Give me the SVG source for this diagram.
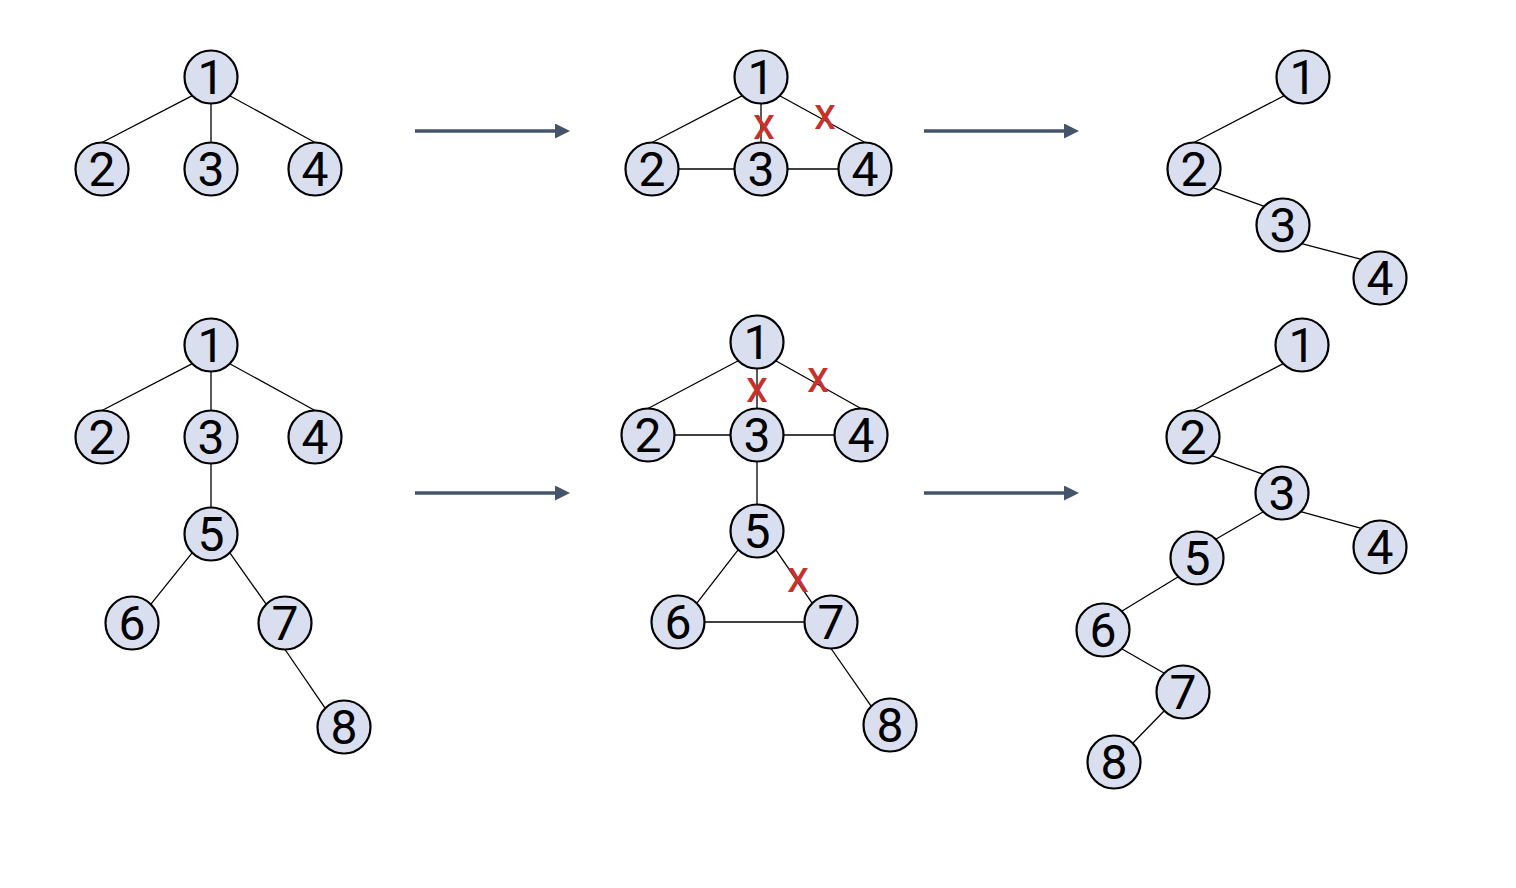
<svg xmlns="http://www.w3.org/2000/svg" width="1516" height="888" viewBox="0 0 1516 888">
<defs>
<style>
.e{stroke:#000;stroke-width:1.3;fill:none}
.n circle{fill:#dadff0;stroke:#000;stroke-width:2.2}
.n text{font-family:Roboto,"Noto Sans",sans-serif;font-size:48px;text-anchor:middle;fill:#000}
.x{font-family:Roboto,"Noto Sans",sans-serif;font-size:34px;font-weight:500;text-anchor:middle;fill:#c8302a}
.a{stroke:#44546a;stroke-width:3.5;fill:none}
</style>
<marker id="ah" markerWidth="16" markerHeight="16" refX="0" refY="7.5" orient="auto" markerUnits="userSpaceOnUse">
<path d="M0,0 L15,7.5 L0,15 Z" fill="#44546a"/>
</marker>
</defs>
<rect width="1516" height="888" fill="#fff"/>
<g id="connectors">
<!-- top-left -->
<line class="e" x1="192.3" y1="95.7" x2="102" y2="142.5"/>
<line class="e" x1="211" y1="103.5" x2="211" y2="142.5"/>
<line class="e" x1="229.7" y1="95.7" x2="315" y2="142.5"/>
<!-- top-mid -->
<line class="e" x1="742.3" y1="95.7" x2="652" y2="142.5"/>
<line class="e" x1="761" y1="103.5" x2="761" y2="142.5"/>
<line class="e" x1="779.7" y1="95.7" x2="865" y2="142.5"/>
<line class="e" x1="678.5" y1="169" x2="734.5" y2="169"/>
<line class="e" x1="787.5" y1="169" x2="838.5" y2="169"/>
<!-- top-right -->
<line class="e" x1="1284.3" y1="95.7" x2="1194" y2="142.5"/>
<line class="e" x1="1212.7" y1="187.7" x2="1264.3" y2="206.3"/>
<line class="e" x1="1301.7" y1="243.7" x2="1361.3" y2="259.3"/>
<!-- bottom-left -->
<line class="e" x1="192.3" y1="363.7" x2="102" y2="410.5"/>
<line class="e" x1="211" y1="371.5" x2="211" y2="410.5"/>
<line class="e" x1="229.7" y1="363.7" x2="315" y2="410.5"/>
<line class="e" x1="211" y1="463.5" x2="211" y2="507.5"/>
<line class="e" x1="192.3" y1="552.7" x2="150.7" y2="604.3"/>
<line class="e" x1="229.7" y1="552.7" x2="266.3" y2="604.3"/>
<line class="e" x1="285" y1="649.5" x2="325.3" y2="708.3"/>
<!-- bottom-mid -->
<line class="e" x1="738.3" y1="360.7" x2="648" y2="408.5"/>
<line class="e" x1="757" y1="368.5" x2="757" y2="408.5"/>
<line class="e" x1="775.7" y1="360.7" x2="861" y2="408.5"/>
<line class="e" x1="674.5" y1="435" x2="730.5" y2="435"/>
<line class="e" x1="783.5" y1="435" x2="834.5" y2="435"/>
<line class="e" x1="757" y1="461.5" x2="757" y2="504.5"/>
<line class="e" x1="738.3" y1="549.7" x2="696.7" y2="603.3"/>
<line class="e" x1="775.7" y1="549.7" x2="812.3" y2="603.3"/>
<line class="e" x1="704.5" y1="622" x2="804.5" y2="622"/>
<line class="e" x1="831" y1="648.5" x2="871.3" y2="706.3"/>
<!-- bottom-right -->
<line class="e" x1="1283.3" y1="363.7" x2="1193" y2="410.5"/>
<line class="e" x1="1211.7" y1="455.7" x2="1263.3" y2="474.3"/>
<line class="e" x1="1300.7" y1="511.7" x2="1361.3" y2="528.3"/>
<line class="e" x1="1263.3" y1="511.7" x2="1215.7" y2="539.3"/>
<line class="e" x1="1178.3" y1="576.7" x2="1121.7" y2="611.3"/>
<line class="e" x1="1121.7" y1="648.7" x2="1164.3" y2="673.3"/>
<line class="e" x1="1164.3" y1="710.7" x2="1132.7" y2="743.3"/>
<!-- arrows -->
<line class="a" x1="415" y1="131" x2="555" y2="131" marker-end="url(#ah)"/>
<line class="a" x1="924" y1="131" x2="1064" y2="131" marker-end="url(#ah)"/>
<line class="a" x1="415" y1="493" x2="555" y2="493" marker-end="url(#ah)"/>
<line class="a" x1="924" y1="493" x2="1064" y2="493" marker-end="url(#ah)"/>
</g>
<g id="cross-marks">
<text class="x" x="764" y="139">X</text>
<text class="x" x="825" y="129">X</text>
<text class="x" x="757" y="402">X</text>
<text class="x" x="818" y="392">X</text>
<text class="x" x="798" y="592">X</text>
</g>
<!-- top-left nodes -->
<g id="tl1" class="n"><circle cx="211" cy="77" r="26.5"/><text x="211" y="94">1</text></g>
<g id="tl2" class="n"><circle cx="102" cy="169" r="26.5"/><text x="102" y="186">2</text></g>
<g id="tl3" class="n"><circle cx="211" cy="169" r="26.5"/><text x="211" y="186">3</text></g>
<g id="tl4" class="n"><circle cx="315" cy="169" r="26.5"/><text x="315" y="186">4</text></g>
<!-- top-mid nodes -->
<g id="tm1" class="n"><circle cx="761" cy="77" r="26.5"/><text x="761" y="94">1</text></g>
<g id="tm2" class="n"><circle cx="652" cy="169" r="26.5"/><text x="652" y="186">2</text></g>
<g id="tm3" class="n"><circle cx="761" cy="169" r="26.5"/><text x="761" y="186">3</text></g>
<g id="tm4" class="n"><circle cx="865" cy="169" r="26.5"/><text x="865" y="186">4</text></g>
<!-- top-right nodes -->
<g id="tr1" class="n"><circle cx="1303" cy="77" r="26.5"/><text x="1303" y="94">1</text></g>
<g id="tr2" class="n"><circle cx="1194" cy="169" r="26.5"/><text x="1194" y="186">2</text></g>
<g id="tr3" class="n"><circle cx="1283" cy="225" r="26.5"/><text x="1283" y="242">3</text></g>
<g id="tr4" class="n"><circle cx="1380" cy="278" r="26.5"/><text x="1380" y="295">4</text></g>
<!-- bottom-left nodes -->
<g id="bl1" class="n"><circle cx="211" cy="345" r="26.5"/><text x="211" y="362">1</text></g>
<g id="bl2" class="n"><circle cx="102" cy="437" r="26.5"/><text x="102" y="454">2</text></g>
<g id="bl3" class="n"><circle cx="211" cy="437" r="26.5"/><text x="211" y="454">3</text></g>
<g id="bl4" class="n"><circle cx="315" cy="437" r="26.5"/><text x="315" y="454">4</text></g>
<g id="bl5" class="n"><circle cx="211" cy="534" r="26.5"/><text x="211" y="551">5</text></g>
<g id="bl6" class="n"><circle cx="132" cy="623" r="26.5"/><text x="132" y="640">6</text></g>
<g id="bl7" class="n"><circle cx="285" cy="623" r="26.5"/><text x="285" y="640">7</text></g>
<g id="bl8" class="n"><circle cx="344" cy="727" r="26.5"/><text x="344" y="744">8</text></g>
<!-- bottom-mid nodes -->
<g id="bm1" class="n"><circle cx="757" cy="342" r="26.5"/><text x="757" y="359">1</text></g>
<g id="bm2" class="n"><circle cx="648" cy="435" r="26.5"/><text x="648" y="452">2</text></g>
<g id="bm3" class="n"><circle cx="757" cy="435" r="26.5"/><text x="757" y="452">3</text></g>
<g id="bm4" class="n"><circle cx="861" cy="435" r="26.5"/><text x="861" y="452">4</text></g>
<g id="bm5" class="n"><circle cx="757" cy="531" r="26.5"/><text x="757" y="548">5</text></g>
<g id="bm6" class="n"><circle cx="678" cy="622" r="26.5"/><text x="678" y="639">6</text></g>
<g id="bm7" class="n"><circle cx="831" cy="622" r="26.5"/><text x="831" y="639">7</text></g>
<g id="bm8" class="n"><circle cx="890" cy="725" r="26.5"/><text x="890" y="742">8</text></g>
<!-- bottom-right nodes -->
<g id="br1" class="n"><circle cx="1302" cy="345" r="26.5"/><text x="1302" y="362">1</text></g>
<g id="br2" class="n"><circle cx="1193" cy="437" r="26.5"/><text x="1193" y="454">2</text></g>
<g id="br3" class="n"><circle cx="1282" cy="493" r="26.5"/><text x="1282" y="510">3</text></g>
<g id="br4" class="n"><circle cx="1380" cy="547" r="26.5"/><text x="1380" y="564">4</text></g>
<g id="br5" class="n"><circle cx="1197" cy="558" r="26.5"/><text x="1197" y="575">5</text></g>
<g id="br6" class="n"><circle cx="1103" cy="630" r="26.5"/><text x="1103" y="647">6</text></g>
<g id="br7" class="n"><circle cx="1183" cy="692" r="26.5"/><text x="1183" y="709">7</text></g>
<g id="br8" class="n"><circle cx="1114" cy="762" r="26.5"/><text x="1114" y="779">8</text></g>
</svg>
